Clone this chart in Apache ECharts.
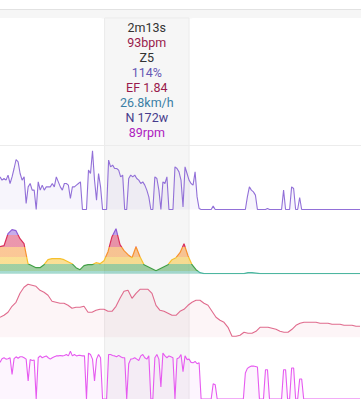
<!DOCTYPE html>
<html><head><meta charset="utf-8">
<script src="https://cdn.jsdelivr.net/npm/echarts@6/dist/echarts.min.js"></script>
<style>html,body{margin:0;padding:0;background:#fff}#c{width:361px;height:399px}</style>
</head><body><div id="c"></div>
<script>
// Power (W), sampled every 2 px of timeline
const powerValues = [261,235,248,235,275,208,261,328,400,381,288,235,261,48,181,208,155,155,0,221,155,195,155,181,181,181,208,181,261,221,181,155,208,208,195,88,181,181,195,208,221,0,0,0,315,288,470,235,75,288,181,0,0,0,395,341,355,328,328,315,261,275,0,0,248,275,261,275,248,235,208,221,195,155,101,0,0,261,248,155,0,221,208,261,0,0,0,341,328,301,235,21,341,288,235,208,195,301,101,8,0,0,0,0,0,0,27,0,0,0,0,0,0,0,0,0,0,0,0,0,0,0,0,101,181,155,141,115,0,0,0,0,0,8,0,0,0,0,0,0,0,155,0,0,0,181,168,0,0,96,0,0,0,0,0,0,0,0,0,0,0,0,0,0,0,0,0,0,0,0,0,0,0,0,0,0,0,0,0,0];
// Cadence (rpm), every 2 px
const cadenceValues = [79,87,89,86,87,89,53,87,91,88,91,91,89,86,39,85,83,84,0,89,93,89,91,93,89,86,89,91,93,93,94,93,94,96,93,103,93,96,93,94,94,93,93,0,99,96,86,39,86,96,89,0,0,0,96,96,94,93,91,94,91,89,89,0,76,86,87,89,86,83,93,96,89,86,93,0,0,89,96,86,26,99,93,89,93,91,89,0,87,89,96,59,93,85,86,79,78,81,76,78,0,0,0,0,0,0,33,31,0,0,0,0,0,0,0,0,0,0,0,0,0,0,56,66,69,71,71,70,69,0,0,0,63,63,0,0,0,0,0,0,0,63,63,0,0,67,67,0,0,43,43,0,0,0,0,0,0,0,0,0,0,0,0,0,0,0,0,0,0,0,0,0,0,0,0,0,0,0,0,0];
// Heart rate (bpm), every 4 px
const hrValues = [97,98,110,114,113,105,100,80,78,76,76,79,84,85,85,85,84,82,80,76,74,78,79,79,81,80,83,92,107,115,99,93,89,86,97,87,79,77,75,73,75,77,79,84,86,91,100,88,79,74,71,70,70,70,70,70,70,70,70,70,70,70,71,71,70.5,70,70,70,70,70,70,70,70,70,70,70,70,70,70,70,70,70,70,70,70,70,70,70,70,70,70];
// Elevation (m), every 4 px
const elevValues = [220,222,225,231,235,244,250,253,252,251,247,245,242,236,235,234,234,232,229,230,230,231,225,225,227,228,228,226,226,231,239,246,247,239,244,248,248,248,244,232,227,226,224,222,222,226,228,232,235,237,237,234,232,226,220,217,215,210,201,201,202,205,204,204,206,210,210,210,209,208,206,205,205,208,212,214,215,215,215,215,214,214,214,213,213,213,212,212,212,211,211];
// HR zone thresholds (bpm) and zone colours
const hrZoneEdges = [73, 79.5, 87, 97, 109];
const hrZoneColors = ['#4db6a0', '#43a047', '#f6c02c', '#f7902f', '#d82f5a', '#8e5bd6'];
// Selection (indices on the 2-px timeline)
const selStart = 52, selEnd = 94;
const selLabels = ['2m13s', '93bpm', 'Z5', '114%', 'EF 1.84', '26.8km/h', 'N 172w', '89rpm'];
const selLabelColors = ['#333333', '#991a4c', '#333333', '#6656b4', '#991a4c', '#3a7fa5', '#463c8c', '#ad22bf'];

const fineCats = powerValues.map((_, i) => i);
const coarseCats = hrValues.map((_, i) => i);

const chart = echarts.init(document.getElementById('c'), null, {renderer: 'svg'});
const grids = [
  {left: 0, width: 360, top: 147, height: 62.5},
  {left: 0, width: 360, top: 223.7, height: 50},
  {left: 0, width: 360, top: 277.3, height: 60},
  {left: 0, width: 360, top: 348, height: 55}
];
const xAxes = [fineCats, coarseCats, coarseCats, fineCats].map((d, i) => ({
  type: 'category', gridIndex: i, data: d, boundaryGap: false, show: false
}));
const yAxes = [[0, 500], [70, 120], [200, 260], [0, 110]].map((r, i) => ({
  type: 'value', gridIndex: i, min: r[0], max: r[1], show: false
}));
const pieces = [];
for (let k = 0; k < hrZoneColors.length; k++) {
  const p = {color: hrZoneColors[k]};
  if (k > 0) p.gte = hrZoneEdges[k - 1];
  if (k < hrZoneEdges.length) p.lt = hrZoneEdges[k];
  pieces.push(p);
}
chart.setOption({
  animation: false,
  grid: grids,
  xAxis: xAxes,
  yAxis: yAxes,
  visualMap: [{type: 'piecewise', show: false, seriesIndex: 1, dimension: 1, pieces: pieces}],
  series: [
    {type: 'line', xAxisIndex: 0, yAxisIndex: 0, data: powerValues, symbol: 'none',
     lineStyle: {color: '#9270d8', width: 1.1}, areaStyle: {color: 'rgba(146,112,216,0.1)'}},
    {type: 'line', xAxisIndex: 1, yAxisIndex: 1, data: hrValues.map((v, i) => [i, v]), symbol: 'none',
     lineStyle: {width: 1.2}, areaStyle: {opacity: 0.5}},
    {type: 'line', xAxisIndex: 2, yAxisIndex: 2, data: elevValues, symbol: 'none',
     lineStyle: {color: '#e06b8d', width: 1.1}, areaStyle: {color: 'rgba(224,107,141,0.1)'}},
    {type: 'line', xAxisIndex: 3, yAxisIndex: 3, data: cadenceValues, symbol: 'none',
     lineStyle: {color: '#e65af0', width: 1.1}, areaStyle: {color: 'rgba(230,90,240,0.09)'}}
  ]
});
const x0 = chart.convertToPixel({xAxisIndex: 0}, selStart);
const x1 = chart.convertToPixel({xAxisIndex: 0}, selEnd);
const cx = (x0 + x1) / 2;
const W = 361, H = 399;
const graphics = [
  {type: 'rect', z: -10, shape: {x: 0, y: 9.5, width: W, height: 9}, style: {fill: '#f6f6f6', stroke: null}},
  {type: 'line', z: -9, shape: {x1: 0, y1: 9.5, x2: W, y2: 9.5}, style: {stroke: '#e2e2e2', lineWidth: 1}},
  {type: 'rect', z: -10, shape: {x: x0, y: 18, width: x1 - x0, height: H}, style: {fill: '#f6f6f6', stroke: '#ebebeb', lineWidth: 1}},
  {type: 'rect', z: -9, shape: {x: -10, y: 18, width: x0 - 1 + 10, height: 127, r: 4}, style: {fill: '#ffffff'}},
  {type: 'rect', z: -9, shape: {x: x1 + 1, y: 18, width: W - x1 + 10, height: 127, r: 4}, style: {fill: '#ffffff'}},
  {type: 'line', z: -8, shape: {x1: 0, y1: 145.5, x2: W, y2: 145.5}, style: {stroke: '#ececec', lineWidth: 1}}
];
selLabels.forEach((t, k) => {
  graphics.push({type: 'text', z: 5, x: cx, y: 27.5 + 15 * k,
    style: {text: t, fill: selLabelColors[k], font: '12.5px Roboto', textAlign: 'center', textVerticalAlign: 'middle'}});
});
chart.setOption({graphic: graphics});
</script></body></html>
